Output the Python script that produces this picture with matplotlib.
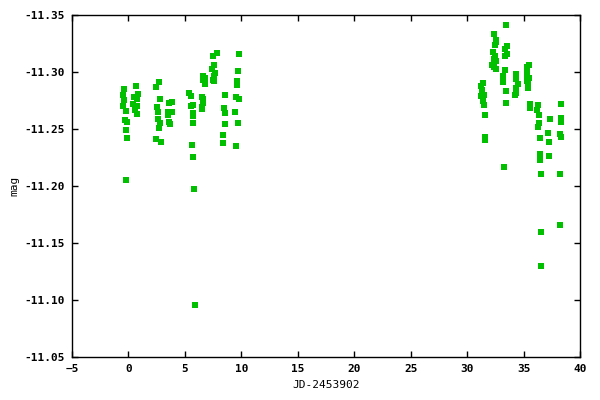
import matplotlib
matplotlib.use("Agg")
import matplotlib.pyplot as plt

# JD-2453902 and magnitudes
jd = [-0.42, 0.71, 0.86, -0.50, 0.50, -0.42, 0.80, 0.44, -0.50, 0.73,
      -0.24, 0.56, 0.73, -0.33, -0.12, -0.24, -0.15, -0.24,
      2.68, 2.45, 2.77, 3.63, 3.83, 2.50, 2.63, 3.51, 3.83, 3.51,
      2.59, 2.77, 3.57, 3.69, 2.68, 2.42, 2.86,
      5.40, 5.51, 5.58, 5.69, 5.69, 5.75, 5.69, 5.60, 5.69, 5.78, 5.87,
      6.58, 6.75, 6.64, 6.75, 6.52, 6.58, 6.58, 6.64, 6.49, 6.49,
      7.81, 7.46, 7.58, 7.41, 7.64, 7.58, 7.46, 7.58,
      9.76, 9.67, 9.65, 9.58, 8.58, 9.53, 9.76, 8.47, 8.52, 9.41,
      9.71, 8.52, 8.41, 8.35, 9.53,
      32.42, 32.59, 32.59, 32.48, 32.33, 32.48, 32.42, 32.59, 32.24, 32.42, 32.54,
      31.44, 31.24, 31.35, 31.35, 31.24, 31.53, 31.44, 31.53, 31.62, 31.62, 31.62,
      33.48, 33.57, 33.39, 33.57, 33.39, 33.39, 33.21, 33.21, 33.48, 33.48, 33.30,
      34.34, 34.36, 34.54, 34.31, 34.36, 34.27,
      35.51, 35.31, 35.34, 35.34, 35.49, 35.31, 35.42, 35.42, 35.60, 35.60,
      36.31, 36.22, 36.40, 36.40, 36.31, 36.49, 36.49, 36.49, 36.58, 36.58, 36.58,
      37.37, 37.19, 37.28, 37.28,
      38.35, 38.35, 38.35, 38.26, 38.35, 38.26, 38.26]
mag = [-11.285, -11.2875, -11.281, -11.280, -11.278, -11.275, -11.276, -11.272, -11.270, -11.270,
       -11.2655, -11.267, -11.263, -11.258, -11.256, -11.249, -11.242, -11.205,
       -11.291, -11.2868, -11.276, -11.2725, -11.274, -11.269, -11.265, -11.265, -11.2646, -11.262,
       -11.259, -11.255, -11.256, -11.254, -11.2506, -11.241, -11.239,
       -11.282, -11.279, -11.270, -11.2708, -11.2638, -11.261, -11.255, -11.2357, -11.225, -11.197, -11.096,
       -11.2965, -11.2945, -11.293, -11.2895, -11.278, -11.276, -11.274, -11.273, -11.2696, -11.2675,
       -11.3167, -11.3138, -11.306, -11.3024, -11.299, -11.2962, -11.293, -11.2921,
       -11.3155, -11.301, -11.292, -11.289, -11.2796, -11.278, -11.2766, -11.2687, -11.264, -11.2646,
       -11.255, -11.254, -11.245, -11.2375, -11.235,
       -11.333, -11.328, -11.326, -11.3234, -11.3173, -11.314, -11.311, -11.3094, -11.3064, -11.3046, -11.3024,
       -11.290, -11.288, -11.284, -11.281, -11.279, -11.2796, -11.2746, -11.271, -11.262, -11.2427, -11.240,
       -11.341, -11.3225, -11.3199, -11.3155, -11.3138, -11.3015, -11.2962, -11.291, -11.283, -11.2725, -11.2164,
       -11.298, -11.2936, -11.2895, -11.2857, -11.2813, -11.2796,
       -11.306, -11.304, -11.2994, -11.2965, -11.2945, -11.2924, -11.290, -11.2857, -11.2717, -11.268,
       -11.2708, -11.2664, -11.2623, -11.255, -11.2515, -11.2418, -11.2278, -11.2225, -11.2103, -11.1594, -11.1296,
       -11.2585, -11.2462, -11.2383, -11.2261,
       -11.2717, -11.2599, -11.2561, -11.2454, -11.2427, -11.2103, -11.1655]

xticks = [-5, 0, 5, 10, 15, 20, 25, 30, 35, 40]
yticks = [-11.35, -11.30, -11.25, -11.20, -11.15, -11.10, -11.05]

plt.rcParams['font.family'] = 'DejaVu Sans Mono'
plt.rcParams['font.weight'] = 'bold'
plt.rcParams['font.size'] = 8

fig = plt.figure(figsize=(6, 4), dpi=100)
ax = fig.add_axes([0.12, 0.1075, 0.8467, 0.855])
ax.plot(jd, mag, 's', color='#00c000', markersize=4, markeredgewidth=0)

ax.set_xlim(-5, 40)
ax.set_ylim(-11.05, -11.35)
ax.set_xticks(xticks)
ax.set_yticks(yticks)
ax.set_yticklabels(['%.2f' % v for v in yticks])
ax.tick_params(direction='in', top=True, right=True, length=4, width=1, pad=5)
for s in ax.spines.values():
    s.set_linewidth(1)
ax.set_xlabel('JD-2453902', labelpad=4)
ax.set_ylabel('mag', labelpad=4)

fig.savefig('out.png', dpi=100)
